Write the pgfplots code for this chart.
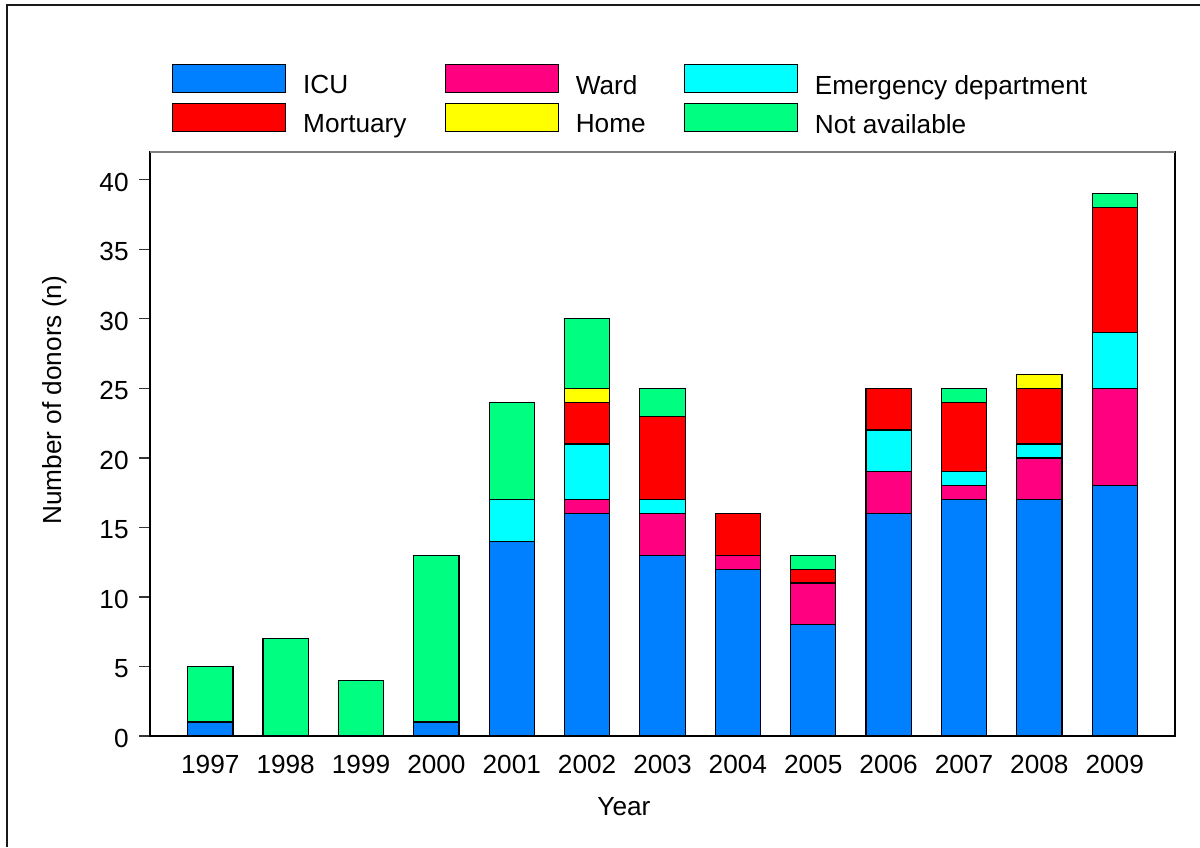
\documentclass[border=0pt]{standalone}
\usepackage{pgfplots}
\usepackage{pgfplotstable}
\pgfplotsset{compat=1.18}
\usepackage{fontspec}
\setmainfont{Liberation Sans}
\definecolor{cICU}{HTML}{0080FF}
\definecolor{cWard}{HTML}{FF0080}
\definecolor{cED}{HTML}{00FFFF}
\definecolor{cMort}{HTML}{FF0000}
\definecolor{cHome}{HTML}{FFFF00}
\definecolor{cNA}{HTML}{00FF80}
\pgfplotstableread{
x ICU Ward ED Mort Home NA
0 1 0 0 0 0 4
1 0 0 0 0 0 7
2 0 0 0 0 0 4
3 1 0 0 0 0 12
4 14 0 3 0 0 7
5 16 1 4 3 1 5
6 13 3 1 6 0 2
7 12 1 0 3 0 0
8 8 3 0 1 0 1
9 16 3 3 3 0 0
10 17 1 1 5 0 1
11 17 3 1 4 1 0
12 18 7 4 9 0 1
}\datatable
\newcommand{\myfont}{\fontsize{13.1}{15.7}\selectfont}
\begin{document}
\myfont
\begin{tikzpicture}
\path[use as bounding box] (0,0) rectangle (600pt,423.5pt);
\draw[line width=0.8pt, black!90] (3.5pt,0) -- (3.5pt,421pt) -- (600pt,421pt);
\begin{axis}[
  at={(75pt,55.5pt)}, anchor=south west,
  scale only axis, width=512.5pt, height=292pt,
  ybar stacked, bar width=0.6,
  xmin=-0.8, xmax=12.8, ymin=0, ymax=42,
  xtick={0,...,12},
  xticklabels={1997,1998,1999,2000,2001,2002,2003,2004,2005,2006,2007,2008,2009},
  ytick={0,5,...,40},
  ytick pos=left,
  tick align=outside,
  xtick style={draw=none},
  ytick style={black!80, line width=0.6pt},
  major tick length=5.5pt,
  axis line style={line width=0.75pt},
  /pgf/number format/assume math mode=true,
  ticklabel style={font=\myfont},
  yticklabel style={anchor=east, inner sep=0pt, xshift=-5pt, yshift=-1.2pt},
  xticklabel style={anchor=base, inner sep=0pt, yshift=-13pt},
  xlabel={Year},
  ylabel={Number of donors (n)},
  label style={font=\myfont},
  every axis x label/.style={at={(axis description cs:0.4624,0)}, anchor=base, yshift=-39.5pt},
  every axis y label/.style={at={(axis description cs:-0.0927,0.575)}, rotate=90, anchor=center},
  legend columns=3,
  legend cell align=left,
  legend style={at={(axis description cs:0,1)}, anchor=north west, xshift=11pt, yshift=44pt,
    draw=none, fill=none, inner sep=0pt, outer sep=0pt, font=\myfont,
    row sep=2.5pt,
    nodes={inner sep=0pt},
    /tikz/every even column/.append style={column sep=19pt},
    /tikz/every odd column/.append style={column sep=8.5pt}},
  mylegend/.style={legend image code/.code={\draw[##1, line width=0.6pt] (0pt,-3pt) rectangle (56.5pt,11pt);}},
  every axis plot/.append style={draw=black, line width=0.6pt},
]
\addplot[fill=cICU, mylegend] table[x=x, y=ICU] {\datatable};
\addlegendentry{ICU}
\addplot[fill=cWard, mylegend] table[x=x, y=Ward] {\datatable};
\addlegendentry{Ward}
\addplot[fill=cED, mylegend] table[x=x, y=ED] {\datatable};
\addlegendentry{Emergency department}
\addplot[fill=cMort, mylegend] table[x=x, y=Mort] {\datatable};
\addlegendentry{Mortuary}
\addplot[fill=cHome, mylegend] table[x=x, y=Home] {\datatable};
\addlegendentry{Home}
\addplot[fill=cNA, mylegend] table[x=x, y=NA] {\datatable};
\addlegendentry{Not available}
\draw[gray, line width=0.75pt] (rel axis cs:0,1) -- (rel axis cs:1,1);
\end{axis}
\end{tikzpicture}
\end{document}
